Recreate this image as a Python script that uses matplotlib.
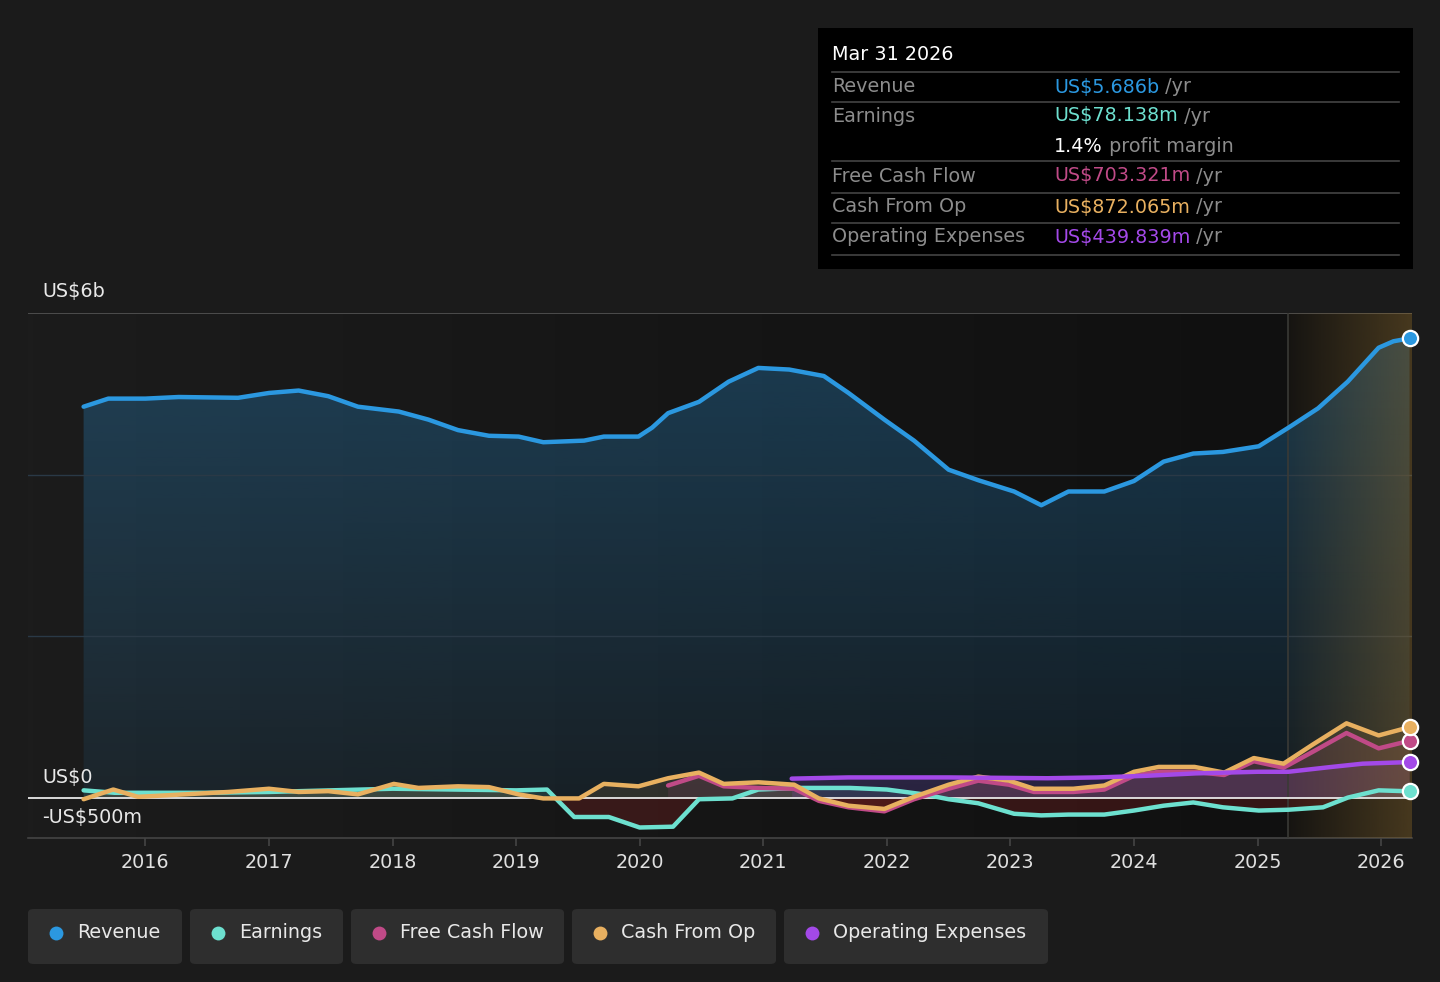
import numpy as np
import matplotlib
matplotlib.use("Agg")
import matplotlib.pyplot as plt
from matplotlib.patches import FancyBboxPatch, Rectangle
from matplotlib.colors import to_rgb

# ---- data (US$ billions, fractional years) ----
rev_t = [2015.5, 2015.7, 2016.0, 2016.27, 2016.75, 2017.0, 2017.24, 2017.48, 2017.72, 2018.05,
         2018.29, 2018.53, 2018.78, 2019.02, 2019.22, 2019.55, 2019.71, 2019.99, 2020.1, 2020.23,
         2020.48, 2020.72, 2020.96, 2021.21, 2021.49, 2021.69, 2021.98, 2022.22, 2022.5, 2022.74,
         2023.03, 2023.25, 2023.47, 2023.76, 2024.0, 2024.24, 2024.48, 2024.72, 2025.01, 2025.25,
         2025.49, 2025.73, 2025.98, 2026.1, 2026.23]
rev_v = [4.84, 4.94, 4.94, 4.96, 4.95, 5.01, 5.04, 4.97, 4.84, 4.78,
         4.68, 4.55, 4.48, 4.47, 4.40, 4.42, 4.47, 4.47, 4.58, 4.76,
         4.90, 5.15, 5.32, 5.30, 5.22, 5.01, 4.68, 4.42, 4.06, 3.93,
         3.79, 3.62, 3.79, 3.79, 3.92, 4.16, 4.26, 4.28, 4.35, 4.58,
         4.82, 5.15, 5.57, 5.65, 5.686]

earn_t = [2015.5, 2015.75, 2016.5, 2017.0, 2017.5, 2018.0, 2018.5, 2019.0, 2019.25, 2019.47,
          2019.75, 2020.0, 2020.27, 2020.48, 2020.75, 2020.96, 2021.3, 2021.7, 2022.0, 2022.3,
          2022.5, 2022.74, 2023.03, 2023.25, 2023.47, 2023.76, 2024.0, 2024.24, 2024.48, 2024.72,
          2025.01, 2025.25, 2025.53, 2025.73, 2025.98, 2026.23]
earn_v = [0.09, 0.06, 0.06, 0.07, 0.09, 0.11, 0.10, 0.09, 0.10, -0.24,
          -0.24, -0.37, -0.36, -0.02, -0.01, 0.10, 0.12, 0.12, 0.10, 0.04,
          -0.02, -0.07, -0.20, -0.22, -0.21, -0.21, -0.16, -0.10, -0.06, -0.12,
          -0.16, -0.15, -0.12, 0.0, 0.09, 0.078]

cfo_t = [2015.5, 2015.74, 2015.94, 2016.19, 2016.67, 2017.0, 2017.24, 2017.48, 2017.72, 2018.01,
         2018.21, 2018.53, 2018.78, 2019.02, 2019.22, 2019.51, 2019.71, 2019.99, 2020.23, 2020.48,
         2020.68, 2020.96, 2021.25, 2021.45, 2021.69, 2021.98, 2022.22, 2022.5, 2022.74, 2022.99,
         2023.19, 2023.51, 2023.76, 2024.0, 2024.2, 2024.49, 2024.73, 2024.97, 2025.21, 2025.45,
         2025.72, 2025.98, 2026.23]
cfo_v = [-0.02, 0.10, 0.01, 0.03, 0.07, 0.11, 0.07, 0.08, 0.04, 0.17,
         0.12, 0.14, 0.13, 0.04, -0.01, -0.01, 0.17, 0.14, 0.24, 0.31,
         0.17, 0.19, 0.16, -0.01, -0.10, -0.14, 0.01, 0.16, 0.26, 0.21,
         0.11, 0.11, 0.15, 0.32, 0.38, 0.38, 0.31, 0.49, 0.42, 0.66,
         0.92, 0.77, 0.872]

fcf_t = [2020.23, 2020.48, 2020.68, 2020.96, 2021.25, 2021.45, 2021.69, 2021.98, 2022.22, 2022.5,
         2022.74, 2022.99, 2023.19, 2023.51, 2023.76, 2024.0, 2024.2, 2024.49, 2024.73, 2024.97,
         2025.21, 2025.45, 2025.72, 2025.98, 2026.23]
fcf_v = [0.15, 0.27, 0.14, 0.12, 0.11, -0.04, -0.12, -0.17, -0.02, 0.11,
         0.21, 0.16, 0.07, 0.07, 0.10, 0.27, 0.32, 0.32, 0.28, 0.45,
         0.37, 0.57, 0.80, 0.61, 0.703]

opex_t = [2021.23, 2021.69, 2022.5, 2023.3, 2023.7, 2024.1, 2024.5, 2025.0, 2025.25, 2025.6, 2025.85, 2026.23]
opex_v = [0.235, 0.25, 0.25, 0.24, 0.25, 0.27, 0.30, 0.32, 0.32, 0.38, 0.42, 0.44]

forecast_start = 2025.25
year_ticks = list(range(2016, 2027))

BG = "#1b1b1b"
C_REV, C_EARN, C_FCF, C_CFO, C_OPEX = "#2b98e0", "#6de0cf", "#c04a87", "#e8b060", "#a349e8"
FS = 13.8

fig = plt.figure(figsize=(14.4, 9.82), dpi=100, facecolor=BG)
ax = fig.add_axes([28/1440, 1-838/982, (1412-28)/1440, (838-313)/982])
x0, x1, y0, y1 = 2015.05, 2026.25, -0.5, 6.0
ax.set_xlim(x0, x1); ax.set_ylim(y0, y1)
ax.set_facecolor(BG)

# plot background: darkening towards the forecast line
g = np.linspace(0, 1, 256)[None, :]
bgc = np.array(to_rgb("#1c1c1c")); dk = np.array(to_rgb("#101010"))
img = bgc[None, None, :] * (1 - g[..., None]) + dk[None, None, :] * g[..., None]
ax.imshow(img, extent=[x0, forecast_start, y0, y1], aspect="auto", zorder=0)
ax.imshow(np.full((1, 1, 3), dk), extent=[forecast_start, x1, y0, y1], aspect="auto", zorder=0)

for v in [2, 4]:
    ax.axhline(v, color="#2a3946", lw=1, zorder=2.5)
ax.axhline(6, color="#555555", lw=1.2, zorder=1)

# revenue area: vertical gradient clipped to the area under the line
poly = ax.fill_between(rev_t, 0, rev_v, color="none", lw=0)
vg = np.linspace(1, 0, 256)[:, None]
rc = np.array(to_rgb(C_REV))
gimg = np.zeros((256, 1, 4)); gimg[..., :3] = rc; gimg[..., 3] = 0.08 + 0.22 * vg
im = ax.imshow(gimg, extent=[x0, x1, 0, max(rev_v)], aspect="auto", zorder=2)
im.set_clip_path(poly.get_paths()[0], transform=ax.transData)

def fill(t, v, c, a_pos):
    t = np.array(t); v = np.array(v)
    ax.fill_between(t, 0, v, where=v >= 0, interpolate=True, color=c, alpha=a_pos, lw=0, zorder=2)
    ax.fill_between(t, 0, v, where=v <= 0, interpolate=True, color="#7a1f1f", alpha=0.35, lw=0, zorder=2)

fill(earn_t, earn_v, C_EARN, 0.12)
fill(cfo_t, cfo_v, C_CFO, 0.12)
fill(fcf_t, fcf_v, C_FCF, 0.12)
fill(opex_t, opex_v, C_OPEX, 0.15)

# forecast overlay
fc = np.array(to_rgb("#8a6a30"))
gg = np.linspace(0, 1, 256)
ov = np.zeros((1, 256, 4)); ov[0, :, :3] = fc; ov[0, :, 3] = 0.05 + 0.4 * gg
ax.imshow(ov, extent=[forecast_start, x1, y0, y1], aspect="auto", zorder=3)
ax.axvline(forecast_start, color="#3a3a36", lw=1.2, zorder=3)

ax.axhline(0, color="#e8e8e8", lw=1.3, zorder=4)

kw = dict(lw=3.2, solid_capstyle="round", solid_joinstyle="round", zorder=5)
ax.plot(rev_t, rev_v, color=C_REV, **kw)
ax.plot(earn_t, earn_v, color=C_EARN, **kw)
ax.plot(fcf_t, fcf_v, color=C_FCF, **kw)
ax.plot(cfo_t, cfo_v, color=C_CFO, **kw)
ax.plot(opex_t, opex_v, color=C_OPEX, **kw)
for t, v, c in [(rev_t, rev_v, C_REV), (earn_t, earn_v, C_EARN), (fcf_t, fcf_v, C_FCF),
                (cfo_t, cfo_v, C_CFO), (opex_t, opex_v, C_OPEX)]:
    ax.plot(t[-1], v[-1], "o", ms=11, mfc=c, mec="white", mew=1.6, zorder=6, clip_on=False)

# axes styling
for s in ["top", "left", "right"]:
    ax.spines[s].set_visible(False)
ax.spines["bottom"].set_color("#444444"); ax.spines["bottom"].set_linewidth(1.2)
ax.set_yticks([])
ax.set_xticks(year_ticks)
ax.set_xticklabels([str(y) for y in year_ticks])
ax.tick_params(axis="x", colors="#444444", labelcolor="#e0e0e0", labelsize=FS, length=6, width=1.2, pad=5)

def fy(y): return 1 - y/982

for y, s in [(291, "US$6b"), (777, "US$0"), (818, "-US$500m")]:
    fig.text(42/1440, fy(y), s, color="#e8e8e8", fontsize=FS, va="center")

# tooltip box
fig.patches.append(Rectangle((818/1440, fy(269)), (1413-818)/1440, (269-28)/982,
                             transform=fig.transFigure, facecolor="black", edgecolor="none"))
for y in [72, 102, 161, 193, 223, 255]:
    fig.add_artist(plt.Line2D([832/1440, 1399/1440], [fy(y), fy(y)], color="#444444", lw=1.2))
fig.text(832/1440, fy(55), "Mar 31 2026", color="white", fontsize=FS, va="center")
rows = [(87, "Revenue", "US$5.686b", C_REV),
        (116, "Earnings", "US$78.138m", C_EARN),
        (176, "Free Cash Flow", "US$703.321m", C_FCF),
        (207, "Cash From Op", "US$872.065m", C_CFO),
        (237, "Operating Expenses", "US$439.839m", C_OPEX)]
for y, lab, val, c in rows:
    fig.text(832/1440, fy(y), lab, color="#8c8c8c", fontsize=FS, va="center")
    tv = fig.text(1054/1440, fy(y), val, color=c, fontsize=FS, va="center")
    fig.add_artist(plt.Annotation(" /yr", xy=(1, 0.5), xycoords=tv, va="center", color="#8c8c8c", fontsize=FS))
tp = fig.text(1054/1440, fy(146), "1.4%", color="white", fontsize=FS, va="center")
fig.add_artist(plt.Annotation(" profit margin", xy=(1, 0.5), xycoords=tp, va="center", color="#8c8c8c", fontsize=FS))

# legend pills
legend = [("Revenue", C_REV, 28, 182), ("Earnings", C_EARN, 190, 343), ("Free Cash Flow", C_FCF, 351, 564),
          ("Cash From Op", C_CFO, 572, 776), ("Operating Expenses", C_OPEX, 784, 1048)]
for lab, c, l, r in legend:
    fig.patches.append(FancyBboxPatch((l/1440, fy(964)), (r-l)/1440, 55/982,
                                      boxstyle="round,pad=0,rounding_size=0.004", transform=fig.transFigure,
                                      facecolor="#2e2e2e", edgecolor="none"))
    fig.add_artist(plt.Line2D([(l+28)/1440], [fy(933)], marker="o", ms=10, color=c, mec="none"))
    fig.text((l+49)/1440, fy(933), lab, color="#e8e8e8", fontsize=FS, va="center")

fig.savefig("out.png", dpi=100, facecolor=BG)
